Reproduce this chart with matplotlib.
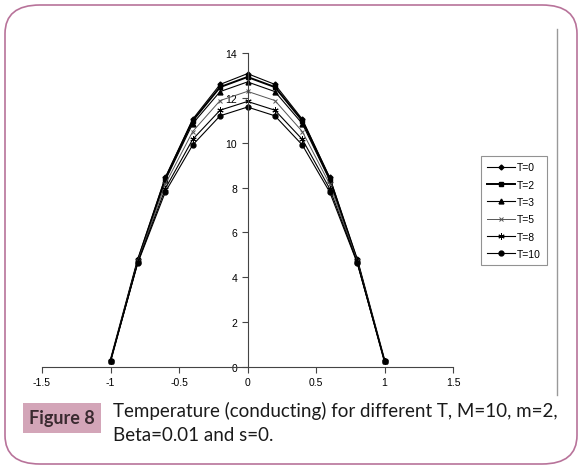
import numpy as np
import matplotlib.pyplot as plt
from matplotlib.patches import FancyBboxPatch, Rectangle
from matplotlib.lines import Line2D

# Data
x_vals = [-1.0, -0.8, -0.6, -0.4, -0.2, 0.0, 0.2, 0.4, 0.6, 0.8, 1.0]
t0 = [0.28, 4.80, 8.45, 11.05, 12.60, 13.08, 12.60, 11.05, 8.45, 4.80, 0.28]
t2 = [0.28, 4.78, 8.40, 10.98, 12.48, 12.93, 12.48, 10.98, 8.40, 4.78, 0.28]
t3 = [0.28, 4.76, 8.32, 10.85, 12.28, 12.71, 12.28, 10.85, 8.32, 4.76, 0.28]
t5 = [0.28, 4.72, 8.15, 10.50, 11.88, 12.29, 11.88, 10.50, 8.15, 4.72, 0.28]
t8 = [0.28, 4.68, 7.95, 10.15, 11.45, 11.84, 11.45, 10.15, 7.95, 4.68, 0.28]
t10 = [0.28, 4.65, 7.80, 9.90, 11.20, 11.59, 11.20, 9.90, 7.80, 4.65, 0.28]
labels = ['T=0', 'T=2', 'T=3', 'T=5', 'T=8', 'T=10']
x_ticks = [-1.5, -1, -0.5, 0, 0.5, 1, 1.5]
x_tick_labels = ['-1.5', '-1', '-0.5', '0', '0.5', '1', '1.5']
y_ticks = [0, 2, 4, 6, 8, 10, 12, 14]

series = [t0, t2, t3, t5, t8, t10]
styles = [
    dict(marker='D', ms=2.5, lw=0.8, color='black'),
    dict(marker='s', ms=3.5, lw=1.4, color='black'),
    dict(marker='^', ms=3.5, lw=0.8, color='black'),
    dict(marker='x', ms=3.5, lw=0.7, color='#555555', mew=0.7),
    dict(marker=(6, 2, 0), ms=4.5, lw=0.8, color='black', mew=0.7),
    dict(marker='o', ms=3.5, lw=0.8, color='black'),
]

plt.rcParams['font.family'] = ['Liberation Sans', 'DejaVu Sans']

fig = plt.figure(figsize=(5.82, 4.77), dpi=100)

# rounded outer frame
frame = FancyBboxPatch((5 / 582, 12 / 477), 572 / 582, 459 / 477,
                       boxstyle='round,pad=0,rounding_size=0.06',
                       transform=fig.transFigure, fill=False,
                       edgecolor='#b8739a', lw=1.2)
fig.patches.append(frame)
fig.add_artist(Line2D([557 / 582, 557 / 582], [1 - 30 / 477, 1 - 396 / 477],
                      transform=fig.transFigure, color='#999999', lw=1))

ax = fig.add_axes([42 / 582, 1 - 368 / 477, 411 / 582, 314 / 477])
for ys, lab, st in zip(series, labels, styles):
    ax.plot(x_vals, ys, label=lab, **st)

ax.set_xlim(-1.5, 1.5)
ax.set_ylim(0, 14)
ax.spines['left'].set_position(('data', 0))
ax.spines['top'].set_visible(False)
ax.spines['right'].set_visible(False)
for sp in ['left', 'bottom']:
    ax.spines[sp].set_color('#444444')
    ax.spines[sp].set_linewidth(0.8)
ax.set_xticks(x_ticks)
ax.set_xticklabels(x_tick_labels)
ax.set_yticks(y_ticks)
ax.tick_params(axis='both', labelsize=7.5, length=4, width=0.8, color='#444444', direction='out')
ax.patch.set_alpha(0)

leg = ax.legend(loc='upper left', bbox_to_anchor=(476 / 582, 1 - 152 / 477),
                bbox_transform=fig.transFigure, frameon=True, fancybox=False,
                fontsize=7.5, handlelength=2.6, labelspacing=0.7,
                borderpad=0.6, handletextpad=0.2)
leg.get_frame().set_edgecolor('#777777')
leg.get_frame().set_linewidth(0.8)

# caption
fig.add_artist(Rectangle((23 / 582, 1 - 434 / 477), 78 / 582, 30 / 477,
                         transform=fig.transFigure, facecolor='#d3a5b8',
                         edgecolor='none'))
fig.text(62 / 582, 1 - 419 / 477, 'Figure 8', ha='center', va='center',
         fontsize=13, fontweight='bold', color='#3a2a30',
         family=['Lato', 'DejaVu Sans'])
fig.text(113 / 582, 1 - 402 / 477,
         'Temperature (conducting) for different T, M=10, m=2,\nBeta=0.01 and s=0.',
         ha='left', va='top', fontsize=13.5, color='#1a1a1a',
         linespacing=1.5, family=['Lato', 'DejaVu Sans'])

fig.savefig('out.png', dpi=100)
